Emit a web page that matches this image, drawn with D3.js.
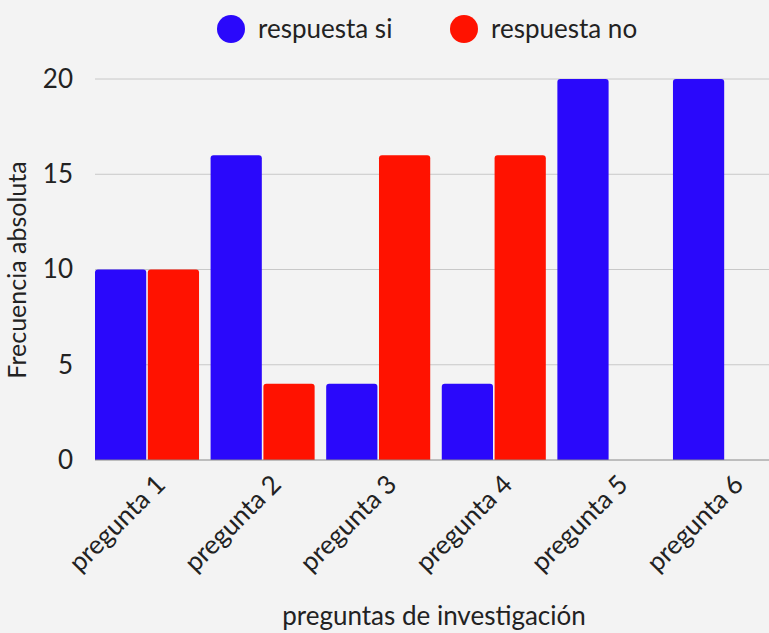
<!DOCTYPE html>
<html>
<head>
<meta charset="utf-8">
<script src="https://cdn.jsdelivr.net/npm/d3@7"></script>
<style>
  body { margin: 0; background: #f3f3f3; }
  svg { display: block; font-family: Lato, "Open Sans", sans-serif; }
</style>
</head>
<body>
<script>
const categories = ['pregunta 1', 'pregunta 2', 'pregunta 3', 'pregunta 4', 'pregunta 5', 'pregunta 6'];
const series_names = ['respuesta si', 'respuesta no'];
const si_values = [10, 16, 4, 4, 20, 20];
const no_values = [10, 4, 16, 16, 0, 0];
const y_ticks = [0, 5, 10, 15, 20];
const colors = ['#2a08fb', '#ff1200'];

const w = 769, h = 633;
const marginTop = 79, marginBottom = 173, marginLeft = 95;
const fs = 26;

const rows = categories.map((c, i) => ({ cat: c, values: [si_values[i], no_values[i]] }));

const svg = d3.select('body').append('svg').attr('width', w).attr('height', h);

const x = d3.scaleBand().domain(categories).range([marginLeft, 777]).paddingInner(0.1).paddingOuter(0).align(0);
const xs = d3.scaleBand().domain(series_names).range([0, x.bandwidth()]).paddingInner(0.03);
const y = d3.scaleLinear().domain([0, 20]).range([h - marginBottom, marginTop]);

// grid
svg.append('g')
    .selectAll('line')
    .data(y_ticks.filter(t => t > 0))
    .join('line')
    .attr('x1', marginLeft).attr('x2', w)
    .attr('y1', d => y(d)).attr('y2', d => y(d))
    .attr('stroke', '#c8c8c8').attr('stroke-width', 1);

// y axis labels
const yAxis = svg.append('g')
    .attr('transform', `translate(${marginLeft}, 0)`)
    .call(d3.axisLeft(y).tickValues(y_ticks).tickSize(0).tickPadding(22));
yAxis.select('.domain').remove();
yAxis.selectAll('text').attr('font-size', fs).attr('fill', '#222').attr('font-family', 'Lato');

// bars with rounded tops
const r = 3;
const barPath = (x0, bw, top, base) => {
    if (base - top < 0.5) return '';
    const rr = Math.min(r, (base - top) / 2);
    return `M${x0},${base}V${top + rr}Q${x0},${top} ${x0 + rr},${top}H${x0 + bw - rr}Q${x0 + bw},${top} ${x0 + bw},${top + rr}V${base}Z`;
};

svg.append('g')
    .selectAll('g')
    .data(rows)
    .join('g')
    .attr('transform', d => `translate(${x(d.cat)}, 0)`)
    .selectAll('path')
    .data(d => d.values.map((v, i) => ({ key: series_names[i], v, i })))
    .join('path')
    .attr('fill', d => colors[d.i])
    .attr('d', d => barPath(xs(d.key), xs.bandwidth(), y(d.v), y(0)));

// baseline
svg.append('line')
    .attr('x1', marginLeft).attr('x2', w)
    .attr('y1', y(0)).attr('y2', y(0))
    .attr('stroke', '#888').attr('stroke-width', 1);

// x labels
svg.append('g')
    .selectAll('text')
    .data(categories)
    .join('text')
    .attr('transform', d => `translate(${x(d) + x.bandwidth() / 2 + 20}, ${y(0) + 26}) rotate(-45)`)
    .attr('text-anchor', 'end')
    .attr('font-size', fs)
    .attr('fill', '#222')
    .text(d => d);

// axis titles
svg.append('text')
    .attr('x', 434).attr('y', 625)
    .attr('text-anchor', 'middle')
    .attr('font-size', fs)
    .attr('fill', '#222')
    .text('preguntas de investigación');

svg.append('text')
    .attr('transform', `translate(25.5, 270) rotate(-90)`)
    .attr('text-anchor', 'middle')
    .attr('font-size', 25)
    .attr('fill', '#222')
    .text('Frecuencia absoluta');

// legend
const legendX = [231, 464];
const legend = svg.append('g')
    .selectAll('g')
    .data(series_names)
    .join('g')
    .attr('transform', (d, i) => `translate(${legendX[i]}, 29)`);
legend.append('circle').attr('r', 14).attr('fill', (d, i) => colors[i]);
legend.append('text')
    .attr('x', 27).attr('dy', '0.35em')
    .attr('font-size', fs)
    .attr('fill', '#222')
    .text(d => d);
</script>
</body>
</html>
